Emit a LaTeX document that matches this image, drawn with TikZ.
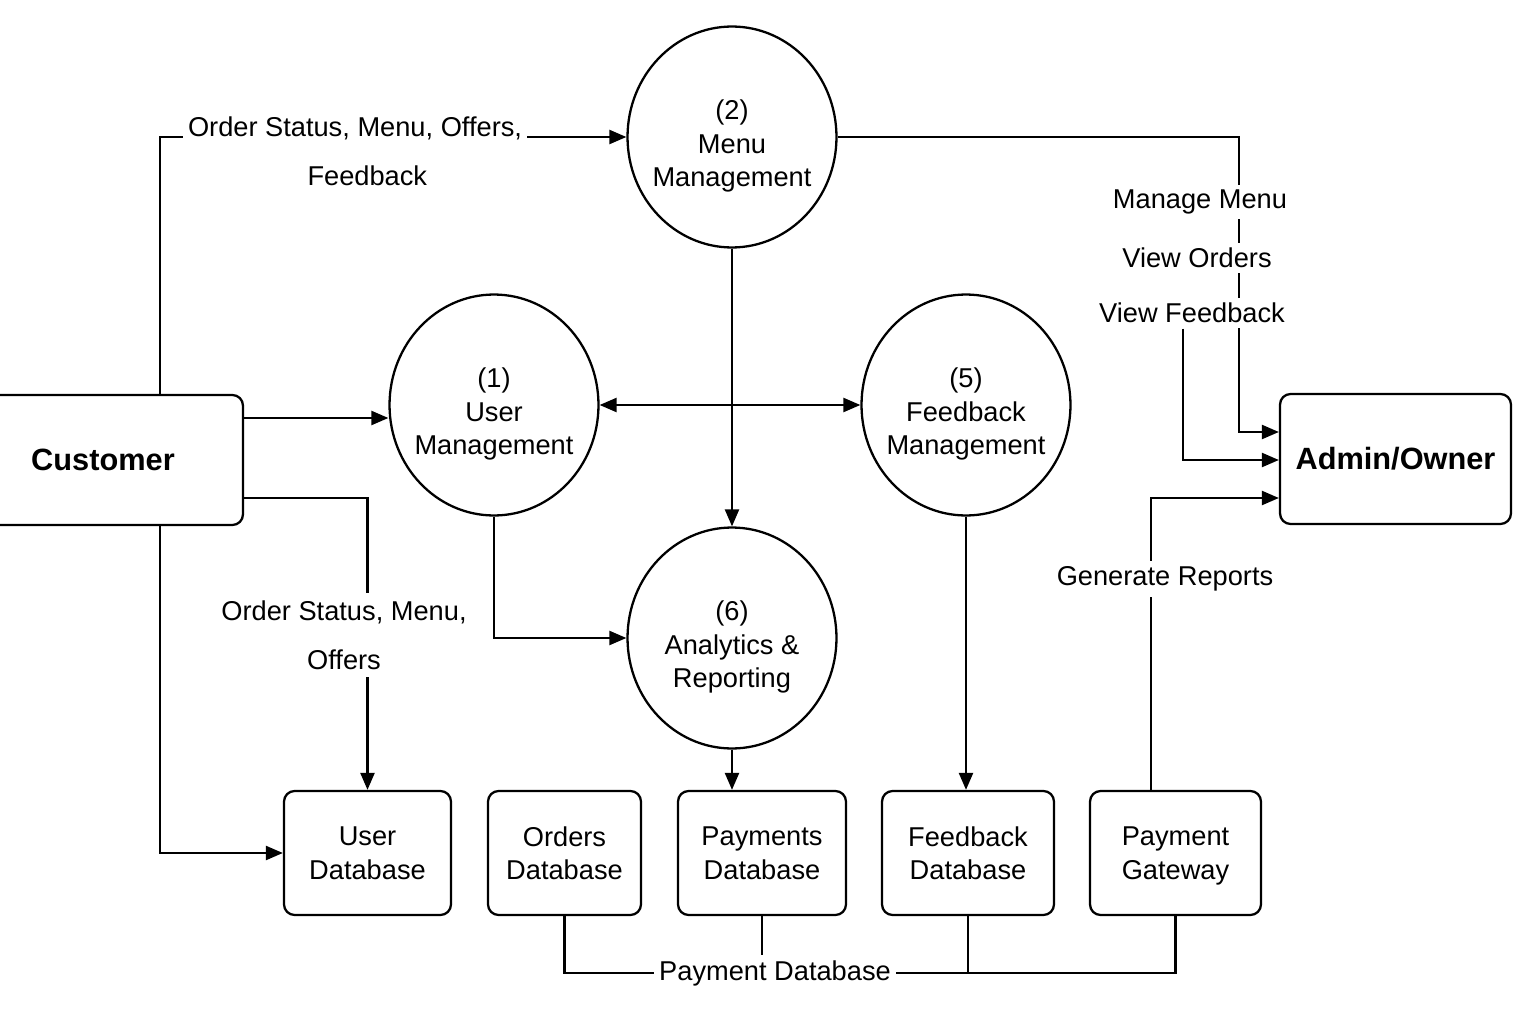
\documentclass[tikz,border=0pt]{standalone}
\usepackage{fontspec}
\setmainfont{Liberation Sans}
\usetikzlibrary{arrows.meta, positioning, shapes.geometric, backgrounds, calc}
\newcommand{\toppad}{\rule{0pt}{21.5pt}}

\begin{document}
\begin{tikzpicture}[
  x=0.02cm, y=-0.02cm,
  font=\fontsize{15.5}{19}\selectfont,
  ent/.style={rectangle, rounded corners=6pt, draw, line width=1.3pt,
              minimum height=2.6cm, align=center, font=\fontsize{17.5}{21}\selectfont\bfseries},
  proc/.style={ellipse, draw, line width=1.3pt, inner sep=-8pt,
               minimum width=4.18cm, minimum height=4.42cm, align=center},
  store/.style={rectangle, rounded corners=6pt, draw, line width=1.3pt,
                minimum height=2.48cm, text depth=0pt, align=center},
  lbl/.style={fill=white, inner sep=3pt, align=center},
  arr/.style={-{Triangle[length=3.4mm, width=2.8mm]}, line width=1.3pt},
  darr/.style={{Triangle[length=3.4mm, width=2.8mm]}-{Triangle[length=3.4mm, width=2.8mm]}, line width=1.3pt},
  wire/.style={line width=1.3pt}
]
\useasboundingbox (0,0) rectangle (1536,1024);
%% external entities
\node[ent, minimum width=5.6cm]  (cust)  at (103,460)    {Customer};
\node[ent, minimum width=4.62cm] (admin) at (1395.5,459) {Admin/Owner};
%% processes
\node[proc] (menu) at (732,137) {\toppad(2)\\Menu\\Management};
\node[proc] (user) at (494,405) {\toppad(1)\\User\\Management};
\node[proc] (fb)   at (966,405) {\toppad(5)\\Feedback\\Management};
\node[proc] (ana)  at (732,638) {\toppad(6)\\Analytics \&\\Reporting};
%% data stores
\node[store, minimum width=3.34cm] (udb) at (367.5,853)  {User\\Database};
\node[store, minimum width=3.06cm] (odb) at (564.5,853)  {Orders\\Database};
\node[store, minimum width=3.36cm] (pdb) at (762,853)    {Payments\\Database};
\node[store, minimum width=3.44cm] (fdb) at (968,853)    {Feedback\\Database};
\node[store, minimum width=3.42cm] (pgw) at (1175.5,853) {Payment\\Gateway};
%% flow labels
\node[lbl] (l_cust_menu) at (355,151) {Order Status, Menu, Offers,\\[9pt]\hspace*{14pt}Feedback};
\node[lbl, inner sep=4pt] (l_cust_udb) at (344,635) {Order Status, Menu,\\[9pt]Offers};
\node[lbl] (l_mm)    at (1200,202) {Manage Menu};
\node[lbl] (l_vo)    at (1197,258) {View Orders};
\node[lbl] (l_vfb)   at (1192,313) {View Feedback};
\node[lbl] (l_rep)   at (1165,579) {Generate Reports};
\node[lbl] (l_paydb) at (775,973)  {Payment Database};
%% connectors
\begin{pgfonlayer}{background}
  \draw[arr] (cust.north -| 160,0) |- (menu.west);
  \draw[arr] (cust.east |- 0,418) -- (user.west |- 0,418);
  \draw[arr] (cust.east |- 0,498) -| (udb.north);
  \draw[arr] (cust.south -| 160,0) |- (udb.west);
  \draw[arr] (menu.south) -- (ana.north);
  \draw[darr] (user.east) -- (fb.west);
  \draw[arr] (user.south) |- (ana.west);
  \draw[arr] (ana.south) -- (ana.south |- pdb.north);
  \draw[arr] (fb.south) -- (fb.south |- fdb.north);
  \draw[arr] (menu.east) -| ($(admin.west |- 0,432) + (-40,0)$) -- (admin.west |- 0,432);
  \draw[arr] (l_vfb.south -| 1183,0) |- (admin.west |- 0,460);
  \draw[arr] (pgw.north -| 1151,0) |- (admin.west |- 0,498);
  %% shared store line
  \draw[wire] (odb.south) |- (l_paydb.west);
  \draw[wire] (l_paydb.east) -| (pgw.south);
  \draw[wire] (fdb.south) -- (fdb.south |- l_paydb.east);
  \draw[wire] (pdb.south) -- (pdb.south |- l_paydb.north);
\end{pgfonlayer}
\end{tikzpicture}
\end{document}
